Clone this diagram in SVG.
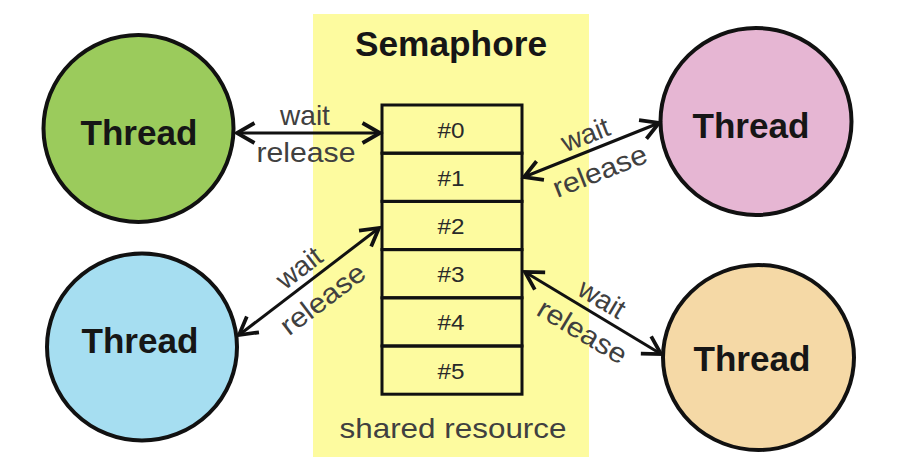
<svg xmlns="http://www.w3.org/2000/svg" width="904" height="470" viewBox="0 0 904 470">
<defs>
<marker id="chev" markerUnits="userSpaceOnUse" markerWidth="30" markerHeight="30" viewBox="-16 -12 20 24" refX="0" refY="0" orient="auto-start-reverse" overflow="visible">
<path d="M-14,-8 L0,0 L-14,8" fill="none" stroke="#111" stroke-width="3" stroke-linejoin="miter"/>
</marker>
<style>
.thread{stroke:#111;stroke-width:4}
.tt{font-family:"Liberation Sans",Arial,sans-serif;font-weight:bold;font-size:35px;fill:#161616;text-anchor:middle}
.lbl{font-family:"Liberation Sans",Arial,sans-serif;font-size:28px;fill:#404040;text-anchor:middle}
.slot{fill:none;stroke:#111;stroke-width:3}
.num{font-family:"Liberation Sans",Arial,sans-serif;font-size:22px;fill:#2a2a2a;text-anchor:middle}
.conn{stroke:#111;stroke-width:3;fill:none;marker-start:url(#chev);marker-end:url(#chev)}
</style>
</defs>
<rect width="904" height="470" fill="#ffffff"/>
<g id="semaphore">
<rect x="313" y="14" width="276" height="443" fill="#fdfb9f"/>
<text x="451" y="56" class="tt" font-size="33" textLength="192" lengthAdjust="spacingAndGlyphs">Semaphore</text>
<text x="453" y="438" class="lbl" fill="#3a3a2a" textLength="227" lengthAdjust="spacingAndGlyphs">shared resource</text>
</g>
<g id="resource">
<rect class="slot" x="382" y="105" width="140" height="48.2"/>
<rect class="slot" x="382" y="153.2" width="140" height="48.2"/>
<rect class="slot" x="382" y="201.4" width="140" height="48.2"/>
<rect class="slot" x="382" y="249.6" width="140" height="48.2"/>
<rect class="slot" x="382" y="297.8" width="140" height="48.2"/>
<rect class="slot" x="382" y="346" width="140" height="48.2"/>
<text class="num" x="451" y="137.5" textLength="27" lengthAdjust="spacingAndGlyphs">#0</text>
<text class="num" x="451" y="185.7" textLength="27" lengthAdjust="spacingAndGlyphs">#1</text>
<text class="num" x="451" y="233.9" textLength="27" lengthAdjust="spacingAndGlyphs">#2</text>
<text class="num" x="451" y="282.1" textLength="27" lengthAdjust="spacingAndGlyphs">#3</text>
<text class="num" x="451" y="330.3" textLength="27" lengthAdjust="spacingAndGlyphs">#4</text>
<text class="num" x="451" y="378.5" textLength="27" lengthAdjust="spacingAndGlyphs">#5</text>
</g>
<g id="thread-green">
<ellipse class="thread" cx="138.5" cy="128.5" rx="95" ry="93.5" fill="#9bcb5c"/>
<text class="tt" x="139" y="145" textLength="117" lengthAdjust="spacingAndGlyphs">Thread</text>
</g>
<g id="thread-blue">
<ellipse class="thread" cx="142" cy="347" rx="95" ry="93.5" fill="#a6def1"/>
<text class="tt" x="140" y="353" textLength="117" lengthAdjust="spacingAndGlyphs">Thread</text>
</g>
<g id="thread-pink">
<ellipse class="thread" cx="756" cy="121.5" rx="95.5" ry="93.5" fill="#e6b6d3"/>
<text class="tt" x="751" y="138" textLength="117" lengthAdjust="spacingAndGlyphs">Thread</text>
</g>
<g id="thread-orange">
<ellipse class="thread" cx="758.5" cy="357.5" rx="95.5" ry="92.5" fill="#f5d9a6"/>
<text class="tt" x="752" y="371" textLength="117" lengthAdjust="spacingAndGlyphs">Thread</text>
</g>
<g id="connectors">
<line class="conn" x1="237" y1="133" x2="380" y2="133"/>
<line class="conn" x1="524" y1="177" x2="659" y2="123"/>
<line class="conn" x1="239" y1="335" x2="379" y2="228"/>
<line class="conn" x1="525" y1="272" x2="661" y2="354"/>
<g class="lbl">
<text class="lbl" x="305" y="125">wait</text>
<text class="lbl" x="306" y="162" textLength="99" lengthAdjust="spacingAndGlyphs">release</text>
<g transform="translate(591.5,150) rotate(-21.5)">
<text class="lbl" x="0" y="-7">wait</text>
<text class="lbl" x="0" y="32" textLength="99" lengthAdjust="spacingAndGlyphs">release</text>
</g>
<g transform="translate(309,281) rotate(-37.3)">
<text class="lbl" x="0" y="-7">wait</text>
<text class="lbl" x="0" y="32" textLength="99" lengthAdjust="spacingAndGlyphs">release</text>
</g>
<g transform="translate(593.5,313) rotate(30.9)">
<text class="lbl" x="0" y="-7">wait</text>
<text class="lbl" x="0" y="31" textLength="99" lengthAdjust="spacingAndGlyphs">release</text>
</g>
</g>
</g>
</svg>
